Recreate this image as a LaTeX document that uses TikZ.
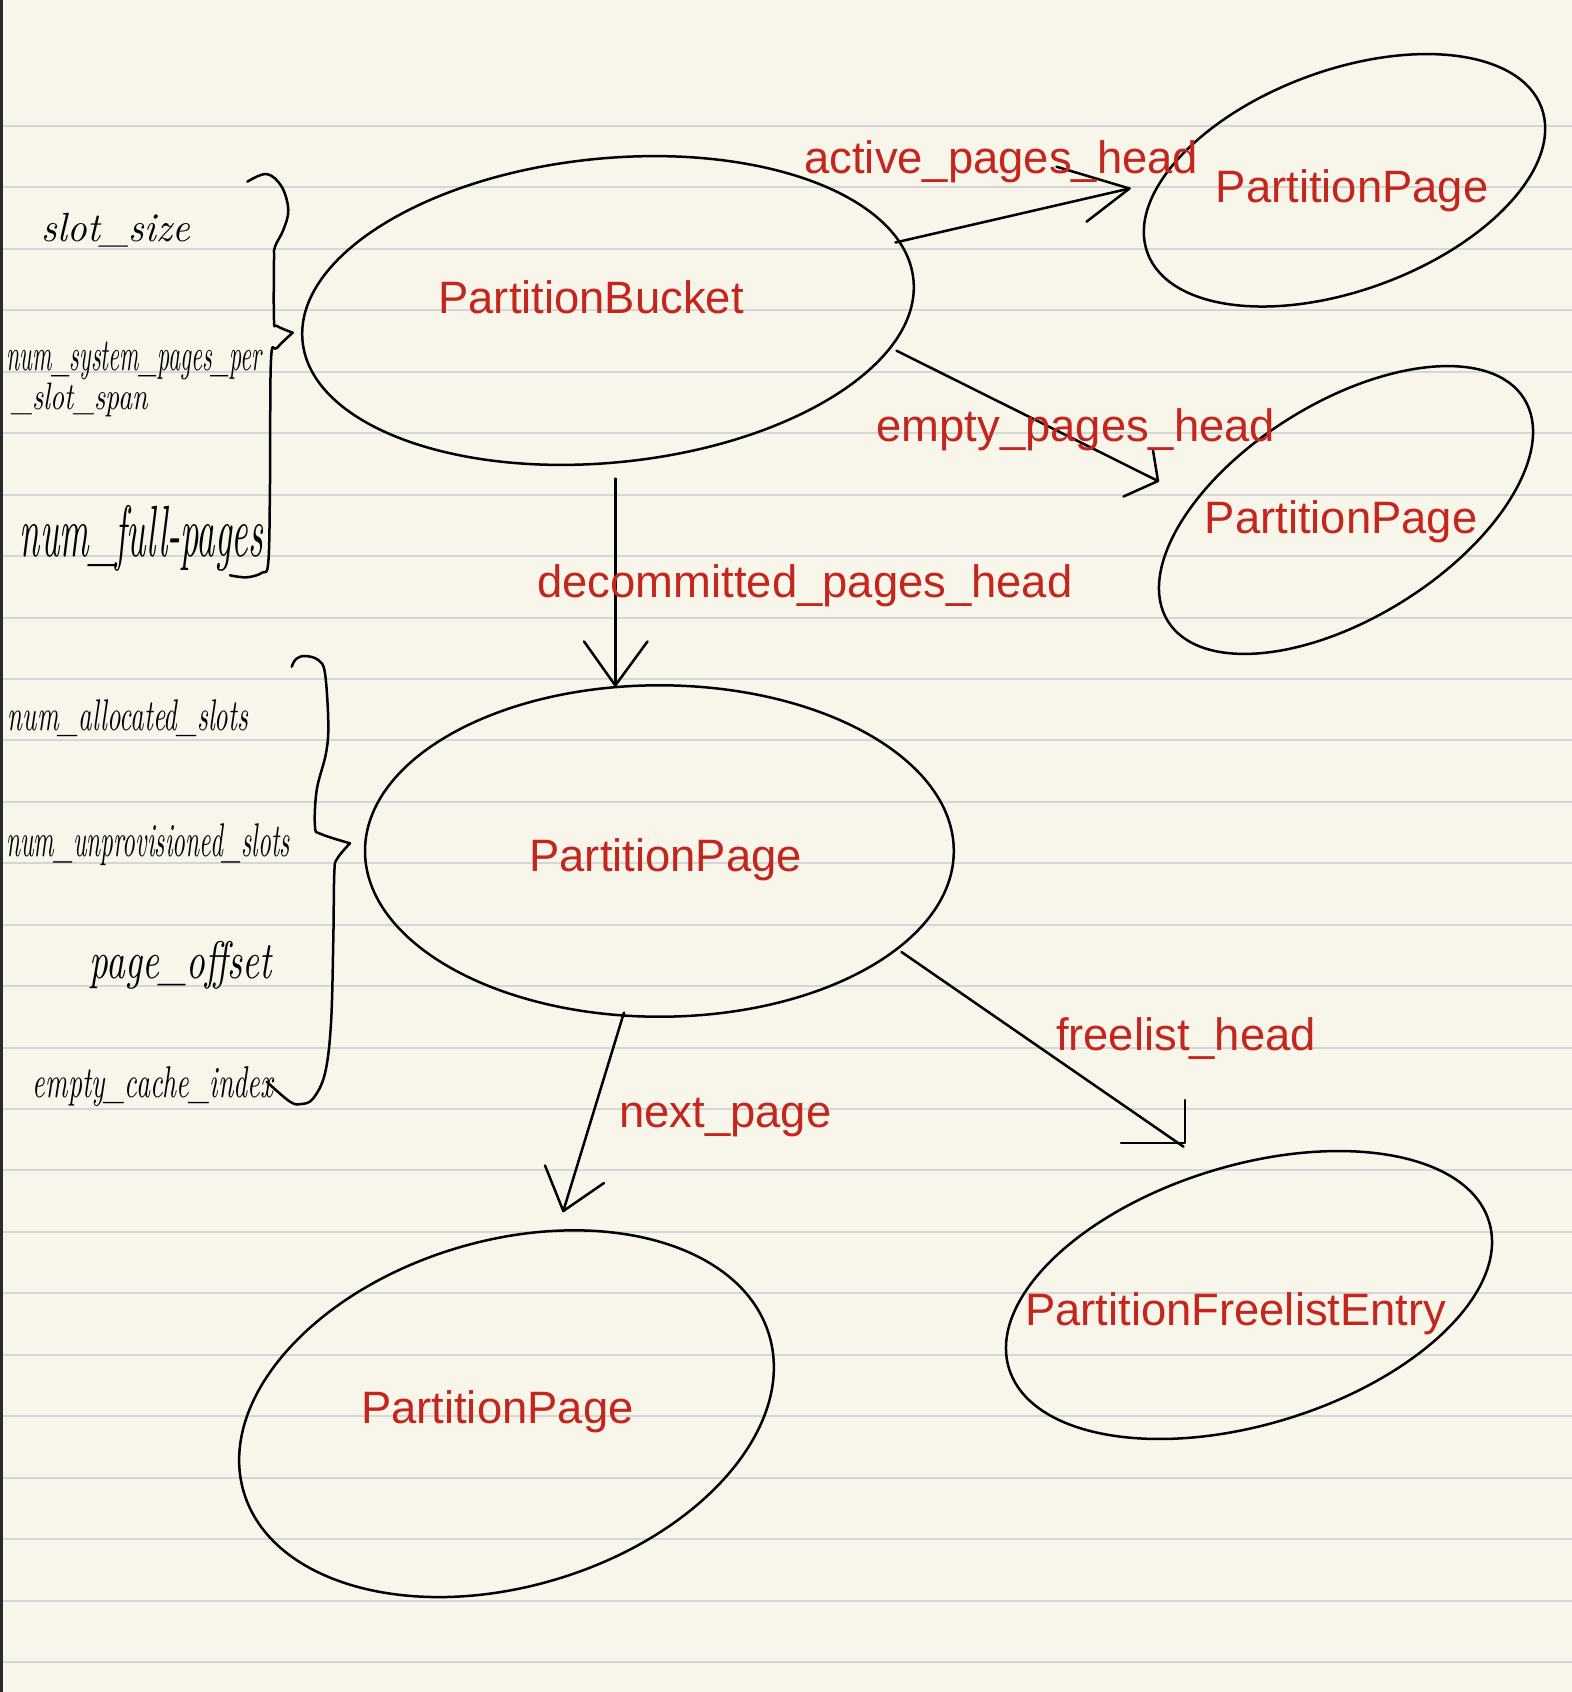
\documentclass[tikz,border=0pt]{standalone}
\usepackage{fontspec}
\usepackage{graphicx}
\setsansfont{Liberation Sans}
\usetikzlibrary{shapes.geometric}
\definecolor{paper}{RGB}{248,246,234}
\definecolor{rulecol}{RGB}{214,214,214}
\definecolor{edgecol}{RGB}{42,42,42}
\definecolor{labred}{RGB}{196,38,29}
\newcommand{\hw}[3]{\resizebox*{#1}{#2}{\itshape #3}}
\tikzset{
  ell/.style={draw=black, line width=1.25pt, ellipse, inner sep=0pt},
  redlab/.style={text=labred, anchor=base west, inner sep=0pt, font=\sffamily\fontsize{22.7}{27}\selectfont},
  handlab/.style={anchor=center, inner sep=0pt, text=black},
  conn/.style={draw=black, line width=1.25pt, line cap=round, line join=round},
  brace/.style={draw=black, line width=1.25pt, line cap=round, line join=round},
  ruleline/.style={draw=rulecol, line width=1pt}
}
\begin{document}
\begin{tikzpicture}[x=0.5pt,y=0.5pt]
\useasboundingbox (0,0) rectangle (1572,-1692);
\fill[paper] (0,0) rectangle (1572,-1692);
\foreach \k in {0,...,25} \draw[ruleline] (0,{-126-61.44*\k}) -- (1572,{-126-61.44*\k});
\fill[edgecol] (0,0) rectangle (3,-1692);

% ellipses
\node[ell, minimum width=307pt, minimum height=152pt, rotate=5.8] (pb) at (608,-310.5) {};
\node[ell, minimum width=210pt, minimum height=110pt, rotate=20.25] (pp1) at (1344.5,-180.3) {};
\node[ell, minimum width=210pt, minimum height=107.6pt, rotate=32] (pp2) at (1346,-510) {};
\node[ell, minimum width=294.4pt, minimum height=165.7pt] (pp3) at (659.4,-851) {};
\node[ell, minimum width=274.2pt, minimum height=172.9pt, rotate=16.65] (pp4) at (506.5,-1413.7) {};
\node[ell, minimum width=251pt, minimum height=129.5pt, rotate=17] (pfe) at (1249,-1295) {};

% ellipse texts
\node[redlab] (tpb) at (438,-313.3) {PartitionBucket};
\node[redlab] (tpp1) at (1215.4,-202.3) {PartitionPage};
\node[redlab] (tpp2) at (1204.4,-533.3) {PartitionPage};
\node[redlab] (tpp3) at (529,-871.4) {PartitionPage};
\node[redlab] (tpp4) at (360.6,-1423.8) {PartitionPage};
\node[redlab] (tpfe) at (1024.7,-1325) {PartitionFreelistEntry};

% connector coordinates
\coordinate (a1s) at (895.4,-242.5);
\coordinate (a1t) at (1129.5,-188.5);
\coordinate (a1u) at (1056.5,-166.7);
\coordinate (a1l) at (1086.5,-221.7);
\coordinate (a2s) at (896.5,-350.7);
\coordinate (a2t) at (1158,-481);
\coordinate (a2u) at (1153,-450.5);
\coordinate (a2l) at (1123.5,-496.5);
\coordinate (a3s) at (615.3,-478.6);
\coordinate (a3t) at (615.3,-685.5);
\coordinate (a3u) at (584,-641.4);
\coordinate (a3l) at (647.5,-641.4);
\coordinate (a4s) at (624,-1012.5);
\coordinate (a4t) at (563.3,-1211);
\coordinate (a4u) at (545,-1165.5);
\coordinate (a4l) at (604,-1183);
\coordinate (a5s) at (901.5,-952);
\coordinate (a5t) at (1183.5,-1146.7);
\coordinate (a5u) at (1185,-1100);
\coordinate (a5c) at (1185,-1143);
\coordinate (a5l) at (1121,-1143);

% connectors
\draw[conn] (a1s) -- (a1t);
\draw[conn] (a1u) -- (a1t) -- (a1l);
\draw[conn] (a2s) -- (a2t);
\draw[conn] (a2u) -- (a2t) -- (a2l);
\draw[conn] (a3s) -- (a3t);
\draw[conn] (a3u) -- (a3t) -- (a3l);
\draw[conn] (a4s) -- (a4t);
\draw[conn] (a4u) -- (a4t) -- (a4l);
\draw[conn] (a5s) -- (a5t);
\draw[conn] (a5u) -- (a5c) -- (a5l);

% connector labels
\node[redlab] (lact) at (804,-173.3) {active\_pages\_head};
\node[redlab] (lemp) at (876,-441.7) {empty\_pages\_head};
\node[redlab] (ldec) at (537,-597) {decommitted\_pages\_head};
\node[redlab] (lnext) at (619,-1127.5) {next\_page};
\node[redlab] (lfree) at (1055.6,-1050.7) {freelist\_head};

% braces
\draw[brace] plot[smooth, tension=0.6] coordinates {(247.3,-181.7) (266.7,-174) (281.7,-186.7) (288.3,-210) (283.3,-230) (275,-246.7) (274,-260) (274,-320) (277,-326) (292.7,-332.7)};
\draw[brace] plot[smooth, tension=0.6] coordinates {(292.7,-332.7) (277,-348) (271,-360) (270,-483.3) (268.3,-562) (262,-572.7) (246.7,-577.3) (230,-575.3)};
\draw[brace] plot[smooth, tension=0.6] coordinates {(291.7,-666.7) (296,-659) (305,-656) (318.3,-660) (325,-673.3) (328.3,-723.3) (326,-753.3) (316.7,-790) (315,-826.7) (321,-834) (350,-843.3)};
\draw[brace] plot[smooth, tension=0.6] coordinates {(350,-843.3) (337,-859) (334.3,-873.3) (333.3,-940) (331,-1023.3) (325,-1073.3) (313.3,-1098.3) (301.7,-1104) (290,-1101.7) (266.7,-1081.7)};

% handwritten field names
\node[handlab] (fslot) at (116,-230) {\hw{74pt}{17pt}{slot\_size}};
\node[handlab] (fsys1) at (134,-361) {\hw{127.5pt}{19pt}{num\_system\_pages\_per}};
\node[handlab] (fsys2) at (80,-400) {\hw{68pt}{17pt}{\_slot\_span}};
\node[handlab] (ffull) at (141.5,-538) {\hw{121.5pt}{33pt}{num\_full-pages}};
\node[handlab] (falloc) at (128,-718.5) {\hw{120pt}{18.5pt}{num\_allocated\_slots}};
\node[handlab] (funprov) at (148,-844.5) {\hw{141.7pt}{21pt}{num\_unprovisioned\_slots}};
\node[handlab] (foff) at (181,-965) {\hw{91pt}{24pt}{page\_offset}};
\node[handlab] (fcache) at (153,-1087) {\hw{120pt}{20pt}{empty\_cache\_index}};
\end{tikzpicture}
\end{document}
